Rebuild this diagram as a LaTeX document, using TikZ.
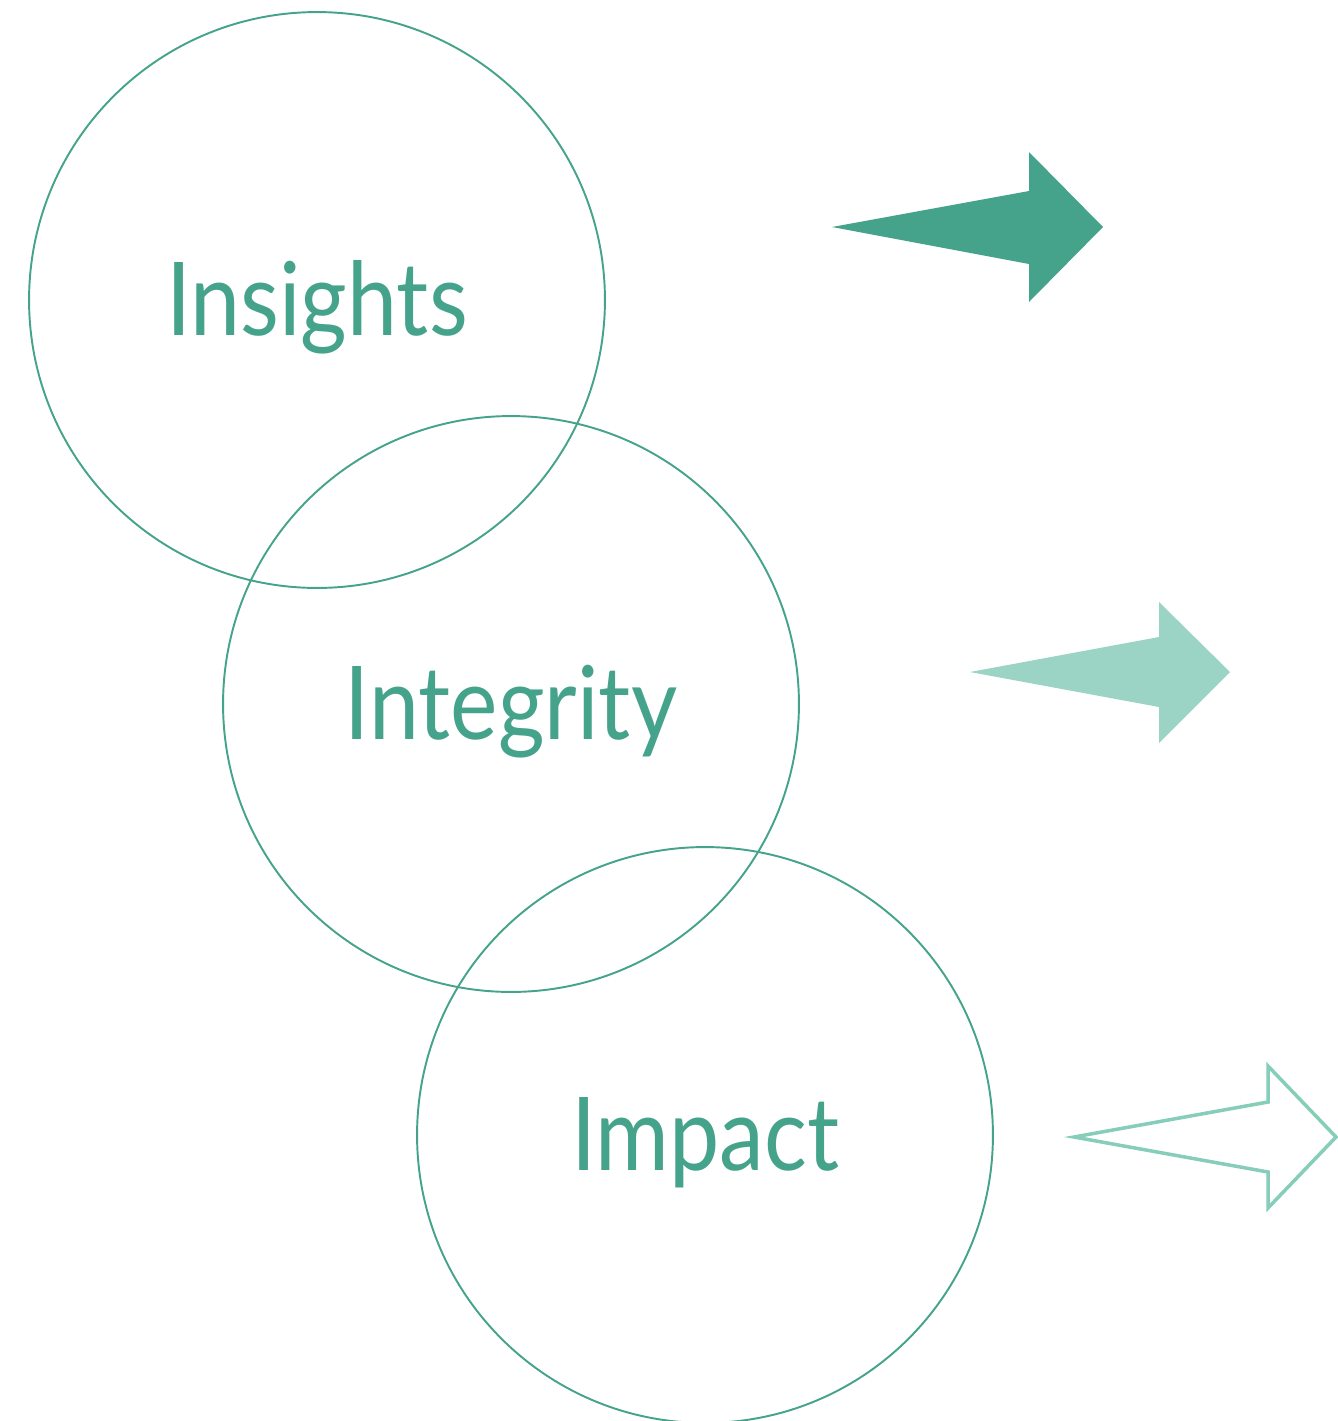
\documentclass[tikz,border=0pt]{standalone}
\usepackage{fontspec}
\setmainfont{Lato}[FakeStretch=0.88]
\usepackage{xcolor}
\usepackage{tikz}
\usetikzlibrary{positioning}

\definecolor{tealdark}{HTML}{46A38B}
\definecolor{teallight}{HTML}{9BD4C5}
\definecolor{tealline}{HTML}{86CDBA}

\begin{document}
\begin{tikzpicture}[x=0.02cm, y=-0.02cm,
    ring/.style={circle, draw=tealdark, line width=1.1pt, minimum size=11.52cm,
      inner sep=0pt, text=tealdark, font=\fontsize{58}{58}\selectfont,
      text height=1.41cm, text depth=0pt}]
      \useasboundingbox (0,0) rectangle (1338,1421);
      % the three rings
      \node[ring] (insights) at (317,300) {Insights};
      \node[ring] (integrity) at (511,704) {Integrity};
      \node[ring] (impact) at (705,1135) {Impact};
      % arrows on the right
      \fill[tealdark] (832,227) -- (1029,191) -- (1029,152) -- (1103,227)
        -- (1029,302) -- (1029,264) -- cycle;
      \fill[teallight] (970,672) -- (1159,637) -- (1159,602) -- (1230,672)
        -- (1159,743) -- (1159,707) -- cycle;
      \draw[tealline, line width=2pt, line join=miter] (1074,1137) -- (1268,1102) -- (1268,1066)
        -- (1336,1137) -- (1268,1208) -- (1268,1172) -- cycle;
\end{tikzpicture}
\end{document}
